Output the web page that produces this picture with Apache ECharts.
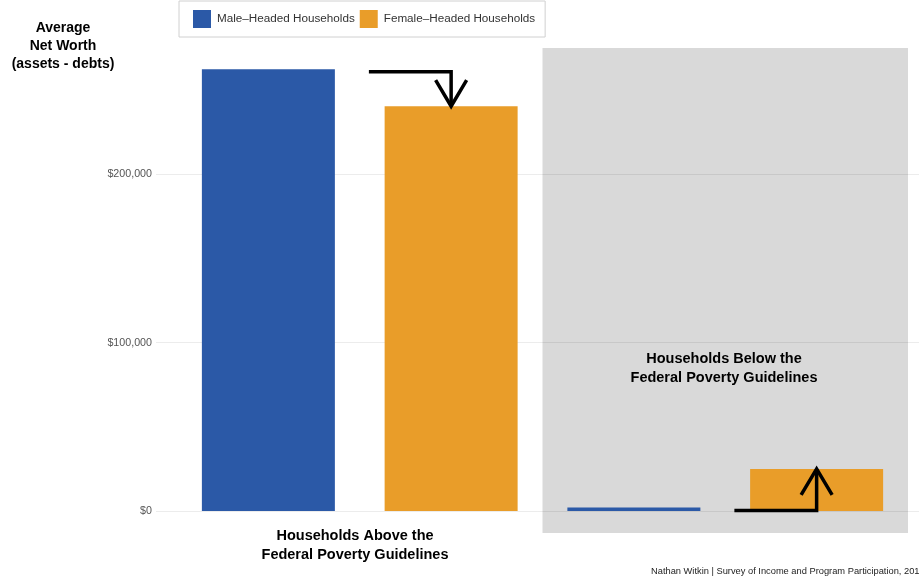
<!DOCTYPE html>
<html>
<head>
<meta charset="utf-8">
<script src="https://cdn.jsdelivr.net/npm/echarts@6/dist/echarts.min.js"></script>
<style>html,body{margin:0;padding:0;background:#fff;}#c{width:919px;height:579px;}</style>
</head>
<body>
<div id="c"></div>
<script>
// ---- data ----
var groupNames = ['Households Above the\nFederal Poverty Guidelines', 'Households Below the\nFederal Poverty Guidelines'];
var seriesNames = ['Male\u2013Headed Households', 'Female\u2013Headed Households'];
var maleValues = [262500, 2000];     // above, below
var femaleValues = [240500, 25000];  // above, below
var tickValues = [0, 100000, 200000];
// bar slot positions (1..4): male-above, female-above, male-below, female-below
var maleSlots = [1, 3];
var femaleSlots = [2, 4];
// arrows: [xStart, xEnd, yStart, yEnd]
var arrows = [[1.55, 2.0, 261000, 240500], [3.55, 4.0, 300, 25000]];
// shaded region for below-poverty group
var shadeX = [2.5, 4.5];

var yMin = -13100, yMax = 275100;
var FONT = '"Liberation Sans", Arial, Helvetica, sans-serif';
var BLUE = '#2b59a7', ORANGE = '#e99d29';

var chart = echarts.init(document.getElementById('c'), null, {renderer: 'canvas'});

function pairs(xs, ys) { return xs.map(function (x, i) { return [x, ys[i]]; }); }

var option = {
  animation: false,
  backgroundColor: '#ffffff',
  textStyle: {fontFamily: FONT},
  legend: {
    data: seriesNames,
    left: 179, top: 1,
    padding: [9, 10, 9, 14],
    itemWidth: 18, itemHeight: 18, itemGap: 5,
    icon: 'rect',
    borderColor: '#d0d0d0', borderWidth: 1,
    backgroundColor: '#ffffff',
    textStyle: {fontSize: 11.7, color: '#333', fontFamily: FONT, padding: [0, 0, 0, 1]}
  },
  grid: [
    {left: 177, right: 11, top: 48, bottom: 46},
    {left: 156, right: 0, top: 48, bottom: 46}
  ],
  xAxis: [
    {gridIndex: 0, type: 'value', min: 0.5, max: 4.5, show: false},
    {gridIndex: 1, type: 'value', min: 0, max: 1, show: false}
  ],
  yAxis: [
    {gridIndex: 0, type: 'value', min: yMin, max: yMax, show: false},
    {gridIndex: 1, type: 'value', min: yMin, max: yMax, z: 1,
      axisLine: {show: false},
      axisTick: {show: false, customValues: tickValues},
      axisLabel: {customValues: tickValues, fontSize: 10.7, color: '#555', margin: 4, fontFamily: FONT,
        formatter: function (v) { return '$' + v.toLocaleString('en-US'); }},
      splitLine: {show: true, lineStyle: {color: 'rgba(0,0,0,0.075)', width: 1}}
    }
  ],
  series: [
    {
      name: 'shade', type: 'line', xAxisIndex: 0, yAxisIndex: 0, data: [], z: 0,
      markArea: {
        silent: true, z: 0,
        itemStyle: {color: '#d9d9d9'},
        data: [[{xAxis: shadeX[0], yAxis: yMin}, {xAxis: shadeX[1], yAxis: yMax}]]
      }
    },
    {
      name: seriesNames[0], type: 'bar', xAxisIndex: 0, yAxisIndex: 0, z: 3,
      barWidth: 133, barGap: '-100%',
      itemStyle: {color: BLUE},
      data: pairs(maleSlots, maleValues)
    },
    {
      name: seriesNames[1], type: 'bar', xAxisIndex: 0, yAxisIndex: 0, z: 3,
      barWidth: 133, barGap: '-100%',
      itemStyle: {color: ORANGE},
      data: pairs(femaleSlots, femaleValues)
    },
    {
      name: 'arrows', type: 'custom', xAxisIndex: 0, yAxisIndex: 0, z: 5, clip: false,
      encode: {x: [0, 1], y: [2, 3]},
      data: arrows,
      renderItem: function (params, api) {
        var p1 = api.coord([api.value(0), api.value(2)]);
        var p2 = api.coord([api.value(1), api.value(2)]);
        var p3 = api.coord([api.value(1), api.value(3)]);
        var dy = p1[1] > p3[1] ? 26 : -26;
        var st = {stroke: '#000', lineWidth: 3.5, fill: null, lineJoin: 'miter', lineCap: 'butt'};
        return {
          type: 'group',
          children: [
            {type: 'polyline', shape: {points: [p1, p2, p3]}, style: st},
            {type: 'polyline', shape: {points: [[p3[0] - 15.5, p3[1] + dy], p3, [p3[0] + 15.5, p3[1] + dy]]}, style: st}
          ]
        };
      }
    }
  ],
  graphic: [
    {type: 'text', z: 100, x: 63, y: 19, style: {text: 'Average\nNet Worth\n(assets - debts)', font: 'bold 14px ' + FONT, fill: '#000', align: 'center', lineHeight: 18}},
    {type: 'text', z: 100, x: 355, y: 527, style: {text: groupNames[0], font: 'bold 14.5px ' + FONT, fill: '#000', align: 'center', lineHeight: 18.5}},
    {type: 'text', z: 100, x: 724, y: 350, style: {text: groupNames[1], font: 'bold 14.5px ' + FONT, fill: '#000', align: 'center', lineHeight: 18.5}},
    {type: 'text', z: 100, x: 651, y: 567, style: {text: 'Nathan Witkin | Survey of Income and Program Participation, 2014', font: '9.3px ' + FONT, fill: '#222', align: 'left'}}
  ]
};
chart.setOption(option);
</script>
</body>
</html>
